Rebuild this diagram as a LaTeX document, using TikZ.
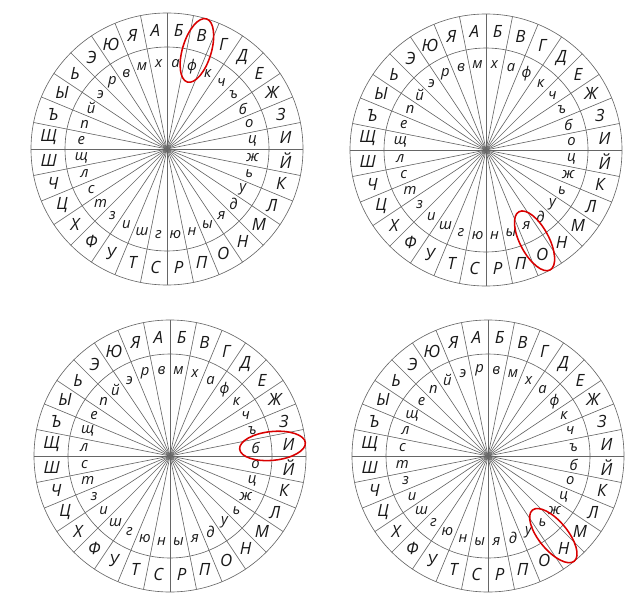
\documentclass[tikz,border=0pt]{standalone}
\usepackage{fontspec}
\setmainfont{Open Sans}
\usetikzlibrary{shapes.geometric,calc}

\begin{document}
\begin{tikzpicture}[x=0.025cm, y=0.025cm]
  % Define styles
  \tikzstyle{ring}=[draw=black!60, line width=0.45pt]
  \tikzstyle{spoke}=[draw=black!60, line width=0.45pt]
  \tikzstyle{upper}=[inner sep=0pt, font=\itshape\fontsize{12}{14}\selectfont, text=black!90]
  \tikzstyle{lower}=[inner sep=0pt, font=\itshape\fontsize{10.5}{12}\selectfont, text=black!90]
  \tikzstyle{hilite}=[ellipse, draw=red!85!black, line width=1.1pt, minimum width=1.65cm, minimum height=0.72cm, inner sep=0pt]

  \useasboundingbox (0,0) rectangle (642,607);

  % Discs: centre x / centre y / shift of the inner ring / marked sector / name
  \foreach \cx/\cy/\sh/\hl/\nm in {167/458/0/2/one, 486/457/1/14/two, 170/151/2/8/three, 488/151/3/13/four}{
    \coordinate (\nm) at (\cx,\cy);
    % Rings and spokes
    \draw[ring] (\nm) circle (136);
    \draw[ring] (\nm) circle (102);
    \foreach \k in {0,...,31}{
      \coordinate (\nm-rim-\k) at ($(\nm)+(90-\k*11.25:136)$);
      \draw[spoke] (\nm) -- (\nm-rim-\k);
    }
    % Outer letters
    \foreach \l [count=\k from 0] in {А,Б,В,Г,Д,Е,Ж,З,И,Й,К,Л,М,Н,О,П,Р,С,Т,У,Ф,Х,Ц,Ч,Ш,Щ,Ъ,Ы,Ь,Э,Ю,Я}
      \node[upper] (\nm-out-\k) at ($(\nm)+(95.625-\k*11.25:119)$) {\l};
    % Inner letters
    \foreach \l [count=\j from 0] in {х,а,ф,к,ч,ъ,б,о,ц,ж,ь,у,д,я,ы,н,ю,г,ш,и,з,т,с,л,щ,е,п,й,э,р,в,м}
      \node[lower] (\nm-in-\j) at ($(\nm)+(95.625-\j*11.25-\sh*11.25:86)$) {\l};
    % Marked pair
    \node[hilite, rotate=95.625-\hl*11.25] (\nm-mark) at ($(\nm)+(95.625-\hl*11.25:103)$) {};
  }
\end{tikzpicture}
\end{document}
